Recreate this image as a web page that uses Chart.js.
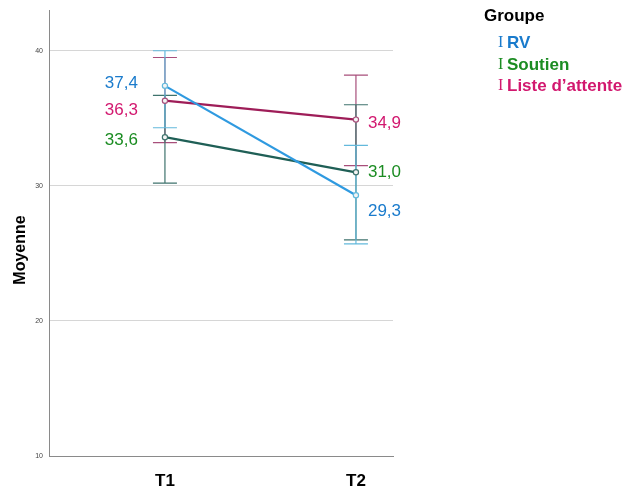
<!DOCTYPE html>
<html>
<head>
<meta charset="utf-8">
<script src="https://cdn.jsdelivr.net/npm/chart.js@4/dist/chart.umd.min.js"></script>
<style>
  html, body { margin: 0; padding: 0; background: #fff; }
  #wrap { width: 629px; height: 491px; position: relative; }
</style>
</head>
<body>
<div id="wrap"><canvas id="c" width="629" height="491"></canvas></div>
<script>
// Mesures (T1, T2) et intervalles de confiance par groupe
const times = ['T1', 'T2'];
const groups = ['RV', 'Soutien', 'Liste d\u2019attente'];
const meanRV = [37.4, 29.3];
const meanSoutien = [33.6, 31.0];
const meanListe = [36.3, 34.9];
const ciLowRV = [34.3, 25.7];
const ciHighRV = [40.0, 33.0];
const ciLowSoutien = [30.2, 26.0];
const ciHighSoutien = [36.7, 36.0];
const ciLowListe = [33.2, 31.5];
const ciHighListe = [39.5, 38.2];
const yTicks = [10, 20, 30, 40];

const FONT = '"Liberation Sans", Arial, sans-serif';

const series = [
  { name: groups[0], mean: meanRV, lo: ciLowRV, hi: ciHighRV,
    line: '#2f9ae0', bar: '#63b9dc', text: '#1a7bcc', nudge: [-3, 16] },
  { name: groups[1], mean: meanSoutien, lo: ciLowSoutien, hi: ciHighSoutien,
    line: '#1f5f56', bar: '#3f736d', text: '#1b8c22', nudge: [3, 0] },
  { name: groups[2], mean: meanListe, lo: ciLowListe, hi: ciHighListe,
    line: '#9e1d58', bar: '#a84f7b', text: '#d2186f', nudge: [10, 4] }
];

const fmt = v => v.toFixed(1).replace('.', ',');

// Barres d'erreur verticales avec traits horizontaux
const errorBars = {
  id: 'errorBars',
  beforeDatasetsDraw(chart) {
    const { ctx, scales: { x, y } } = chart;
    ctx.save();
    ctx.lineWidth = 1.2;
    series.slice().reverse().forEach(s => {
      ctx.strokeStyle = s.bar;
      times.forEach((t, i) => {
        const px = x.getPixelForValue(i + 1);
        const top = y.getPixelForValue(s.hi[i]);
        const bot = y.getPixelForValue(s.lo[i]);
        ctx.beginPath();
        ctx.moveTo(px, top); ctx.lineTo(px, bot);
        ctx.moveTo(px - 12, top); ctx.lineTo(px + 12, top);
        ctx.moveTo(px - 12, bot); ctx.lineTo(px + 12, bot);
        ctx.stroke();
      });
    });
    ctx.restore();
  }
};

// Étiquettes des moyennes, légende et titre de l'axe vertical
const annotations = {
  id: 'annotations',
  afterDraw(chart) {
    const { ctx, scales: { x, y } } = chart;
    ctx.save();
    ctx.font = '17px ' + FONT;
    ctx.textBaseline = 'middle';
    series.forEach(s => {
      times.forEach((t, i) => {
        const px = x.getPixelForValue(i + 1);
        const py = y.getPixelForValue(s.mean[i]) + s.nudge[i];
        ctx.fillStyle = s.text;
        if (i === 0) {
          ctx.textAlign = 'right';
          ctx.fillText(fmt(s.mean[i]), px - 27, py);
        } else {
          ctx.textAlign = 'left';
          ctx.fillText(fmt(s.mean[i]), px + 12, py);
        }
      });
    });

    // Titre de l'axe vertical
    ctx.save();
    ctx.translate(21, 250);
    ctx.rotate(-Math.PI / 2);
    ctx.textAlign = 'center';
    ctx.fillStyle = '#000';
    ctx.font = 'bold 16px ' + FONT;
    ctx.fillText('Moyenne', 0, 0);
    ctx.restore();

    // Légende
    ctx.textAlign = 'left';
    ctx.fillStyle = '#000';
    ctx.font = 'bold 17px ' + FONT;
    ctx.fillText('Groupe', 484, 16);
    const rows = [43, 65, 86];
    series.forEach((s, k) => {
      ctx.fillStyle = s.text;
      ctx.font = '16px "Liberation Serif", "Times New Roman", serif';
      ctx.fillText('I', 498, rows[k]);
      ctx.font = 'bold 17px ' + FONT;
      ctx.fillText(s.name, 507, rows[k]);
    });
    ctx.restore();
  }
};

new Chart(document.getElementById('c'), {
  type: 'line',
  data: {
    datasets: series.map(s => ({
      label: s.name,
      data: s.mean.map((v, i) => ({ x: i + 1, y: v })),
      borderColor: s.line,
      borderWidth: 2.2,
      pointRadius: 2.6,
      pointBorderWidth: 1.2,
      pointBorderColor: s.bar,
      pointBackgroundColor: '#f4f4f4',
      tension: 0
    }))
  },
  options: {
    responsive: false,
    animation: false,
    events: [],
    layout: { padding: { top: 10, right: 236, bottom: 0, left: 0 } },
    plugins: { legend: { display: false }, tooltip: { enabled: false } },
    scales: {
      x: {
        type: 'linear',
        min: 0.393,
        max: 2.194,
        afterBuildTicks: sc => { sc.ticks = times.map((t, i) => ({ value: i + 1 })); },
        afterFit: sc => { sc.height = 35; },
        grid: { display: false, drawTicks: false },
        border: { color: '#8a8a8a', width: 1 },
        ticks: {
          padding: 15,
          color: '#000',
          font: { family: FONT, size: 17, weight: 'bold' },
          callback: v => times[v - 1] || ''
        }
      },
      y: {
        min: 10,
        max: 43,
        afterBuildTicks: sc => { sc.ticks = yTicks.map(v => ({ value: v })); },
        afterFit: sc => { sc.width = 49; },
        grid: { color: '#d6d6d6', lineWidth: 1, drawTicks: false },
        border: { color: '#8a8a8a', width: 1 },
        ticks: {
          padding: 6,
          color: '#444',
          font: { family: FONT, size: 7 }
        }
      }
    }
  },
  plugins: [errorBars, annotations]
});
</script>
</body>
</html>
